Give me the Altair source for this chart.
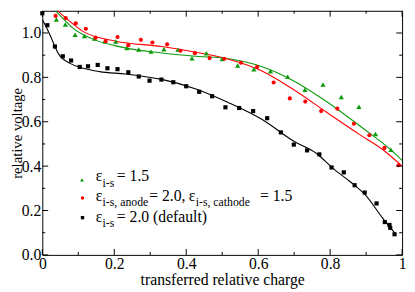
import altair as alt
import pandas as pd

# ---------------- data ----------------
black_x = [0.0, 0.014, 0.035, 0.057, 0.080, 0.104, 0.127, 0.154, 0.181, 0.209, 0.239, 0.268,
           0.298, 0.331, 0.364, 0.400, 0.436, 0.472, 0.509, 0.547, 0.586, 0.625, 0.663, 0.699,
           0.736, 0.770, 0.804, 0.838, 0.868, 0.896, 0.929, 0.952, 0.965, 0.967, 0.979]
black_y = [1.089, 1.035, 0.939, 0.895, 0.876, 0.847, 0.850, 0.856, 0.841, 0.837, 0.823, 0.804,
           0.785, 0.790, 0.778, 0.760, 0.735, 0.715, 0.665, 0.662, 0.648, 0.616, 0.552, 0.497,
           0.471, 0.453, 0.394, 0.372, 0.314, 0.281, 0.232, 0.148, 0.135, 0.122, 0.093]

red_x = [0.037, 0.065, 0.093, 0.121, 0.148, 0.176, 0.209, 0.239, 0.274, 0.306, 0.347, 0.384,
         0.424, 0.465, 0.506, 0.552, 0.597, 0.643, 0.688, 0.731, 0.775, 0.820, 0.866, 0.909,
         0.951, 0.990]
red_y = [1.077, 1.067, 1.043, 1.019, 0.979, 0.963, 0.982, 0.945, 0.969, 0.957, 0.949, 0.920,
         0.909, 0.887, 0.884, 0.866, 0.847, 0.777, 0.705, 0.691, 0.648, 0.659, 0.591, 0.539,
         0.482, 0.404]

green_x = [0.039, 0.064, 0.091, 0.117, 0.145, 0.174, 0.204, 0.235, 0.268, 0.302, 0.338, 0.377,
           0.416, 0.456, 0.500, 0.543, 0.588, 0.634, 0.682, 0.730, 0.780, 0.831, 0.880, 0.926,
           0.969]
green_y = [1.061, 1.038, 0.992, 0.986, 0.975, 0.963, 0.962, 0.932, 0.926, 0.916, 0.927, 0.925,
           0.886, 0.909, 0.883, 0.854, 0.837, 0.828, 0.803, 0.744, 0.768, 0.711, 0.668, 0.545,
           0.474]

# fitted curves
black_fit_x = [0.0, 0.010, 0.021, 0.045, 0.077, 0.114, 0.159, 0.232, 0.332, 0.427, 0.518, 0.609,
               0.699, 0.763, 0.808, 0.854, 0.899, 0.945, 0.981]
black_fit_y = [1.060, 1.030, 0.992, 0.906, 0.863, 0.841, 0.826, 0.815, 0.791, 0.748, 0.686, 0.612,
               0.512, 0.456, 0.390, 0.332, 0.268, 0.168, 0.096]

red_fit_x = [0.030, 0.039, 0.068, 0.114, 0.204, 0.332, 0.427, 0.518, 0.609, 0.699, 0.790, 0.881,
             0.945, 1.0]
red_fit_y = [1.125, 1.107, 1.064, 1.006, 0.963, 0.939, 0.913, 0.882, 0.830, 0.744, 0.643, 0.543,
             0.476, 0.400]

green_fit_x = [0.025, 0.032, 0.050, 0.086, 0.132, 0.204, 0.332, 0.427, 0.518, 0.609, 0.699, 0.790,
               0.881, 0.972, 1.0]
green_fit_y = [1.120, 1.107, 1.078, 1.021, 0.978, 0.942, 0.910, 0.895, 0.884, 0.849, 0.784, 0.691,
               0.583, 0.469, 0.426]

x_major = [0.0, 0.2, 0.4, 0.6, 0.8, 1.0]
x_minor = [0.1, 0.3, 0.5, 0.7, 0.9]
y_major = [0.0, 0.2, 0.4, 0.6, 0.8, 1.0]
y_minor = [0.1, 0.3, 0.5, 0.7, 0.9]

x_title = "transferred relative charge"
y_title = "relative voltage"

# ---------------- styling ----------------
W, H = 367, 249
FONT = "Liberation Serif"
GREEN = "#0a9a0a"
RED = "#ff0000"
BLACK = "#000000"

xscale = alt.Scale(domain=[0, 1], nice=False, zero=False)
yscale = alt.Scale(domain=[0, 1.1], nice=False, zero=False)

xaxis = alt.Axis(values=x_major, title=x_title, labelFlush=False, labelOverlap=False,
                 labelPadding=1,
                 labelExpr="datum.value == 0 ? '0' : (datum.value == 1 ? '1' : format(datum.value, '.1f'))",
                 titleY=30, titleBaseline="alphabetic")
yaxis = alt.Axis(values=y_major, title=y_title, format=".1f", labelFlush=False,
                 labelOverlap=False, labelPadding=1.5, titleFontSize=15,
                 titleX=-21.5, titleY=H / 2, titleAngle=270, titleBaseline="alphabetic",
                 titleAlign="center")


def xenc(f):
    return alt.X(f, type="quantitative", scale=xscale, axis=xaxis)


def yenc(f):
    return alt.Y(f, type="quantitative", scale=yscale, axis=yaxis)


def series_df(xs, ys):
    return pd.DataFrame({"x": xs, "y": ys})


layers = []

# fitted lines
for fx, fy, col in [(green_fit_x, green_fit_y, GREEN), (red_fit_x, red_fit_y, RED),
                    (black_fit_x, black_fit_y, BLACK)]:
    layers.append(
        alt.Chart(series_df(fx, fy)).mark_line(interpolate="monotone", clip=True,
                                               strokeWidth=1.1, color=col)
        .encode(x=xenc("x"), y=yenc("y"))
    )

# data points
layers.append(alt.Chart(series_df(green_x, green_y)).mark_point(
    shape="triangle-up", filled=True, size=28, color=GREEN, opacity=1)
    .encode(x=xenc("x"), y=yenc("y")))
layers.append(alt.Chart(series_df(red_x, red_y)).mark_point(
    shape="circle", filled=True, size=18, color=RED, opacity=1)
    .encode(x=xenc("x"), y=yenc("y")))
layers.append(alt.Chart(series_df(black_x, black_y)).mark_point(
    shape="square", filled=True, size=18, color=BLACK, opacity=1)
    .encode(x=xenc("x"), y=yenc("y")))


# inward tick marks on all four sides
def xticks(vals, length, top):
    d = pd.DataFrame({"v": vals})
    if top:
        ya, yb = 0, length
    else:
        ya, yb = H, H - length
    return alt.Chart(d).mark_rule(color=BLACK, strokeWidth=1).encode(
        x=xenc("v"), y=alt.value(ya), y2=alt.value(yb))


def yticks(vals, length, right):
    d = pd.DataFrame({"v": vals})
    if right:
        xa, xb = W, W - length
    else:
        xa, xb = 0, length
    return alt.Chart(d).mark_rule(color=BLACK, strokeWidth=1).encode(
        y=yenc("v"), x=alt.value(xa), x2=alt.value(xb))


for top in (False, True):
    layers.append(xticks(x_major, 6, top))
    layers.append(xticks(x_minor, 3, top))
for right in (False, True):
    layers.append(yticks(y_major, 6, right))
    layers.append(yticks(y_minor, 3, right))

# ---------------- manual legend (subscripts) ----------------
one = pd.DataFrame({"a": [0]})


def txt(s, x, y, size):
    return alt.Chart(one).mark_text(text=s, font=FONT, fontSize=size, align="left",
                                    baseline="alphabetic", color=BLACK).encode(
        x=alt.value(x), y=alt.value(y))


def sym(shape, col, x, y, size):
    return alt.Chart(one).mark_point(shape=shape, filled=True, size=size, color=col,
                                     opacity=1).encode(x=alt.value(x), y=alt.value(y))


legend_eps = "ε"
legend_sub1 = "i-s"
legend_sub2a = "i-s, anode"
legend_sub2b = "i-s, cathode"
legend_rest1 = "= 1.5"
legend_rest2a = "= 2.0,"
legend_rest2b = "= 1.5"
legend_rest3 = "= 2.0 (default)"

# chart coordinates = page coordinates - (43, 8)
layers += [
    sym("triangle-up", GREEN, 40.5, 172.5, 16),
    sym("circle", RED, 41, 191, 12),
    sym("square", BLACK, 41, 211, 12),
    txt(legend_eps, 54.5, 174, 16), txt(legend_sub1, 61.5, 180, 12), txt(legend_rest1, 76, 174, 16),
    txt(legend_eps, 54.5, 194.5, 16), txt(legend_sub2a, 61.5, 199.5, 12),
    txt(legend_rest2a, 109, 194.5, 16),
    txt(legend_eps, 149.5, 194.5, 16), txt(legend_sub2b, 156.5, 199.5, 12),
    txt(legend_rest2b, 222, 194.5, 16),
    txt(legend_eps, 54.5, 215, 16), txt(legend_sub1, 61.5, 221, 12), txt(legend_rest3, 76, 215, 16),
]

chart = alt.layer(*layers).properties(
    width=W, height=H,
    autosize=alt.AutoSizeParams(type="none"),
    padding={"left": 35, "top": 0, "right": 5, "bottom": 35},
    background="white",
).configure_view(
    stroke=BLACK, strokeWidth=1
).configure_axis(
    grid=False, ticks=False, tickSize=0, domain=False,
    labelFont=FONT, labelFontSize=16, labelColor=BLACK,
    titleFont=FONT, titleFontSize=16, titleColor=BLACK, titleFontWeight="normal",
)

chart.save("out.html", embed_options={"renderer": "svg", "actions": False})
